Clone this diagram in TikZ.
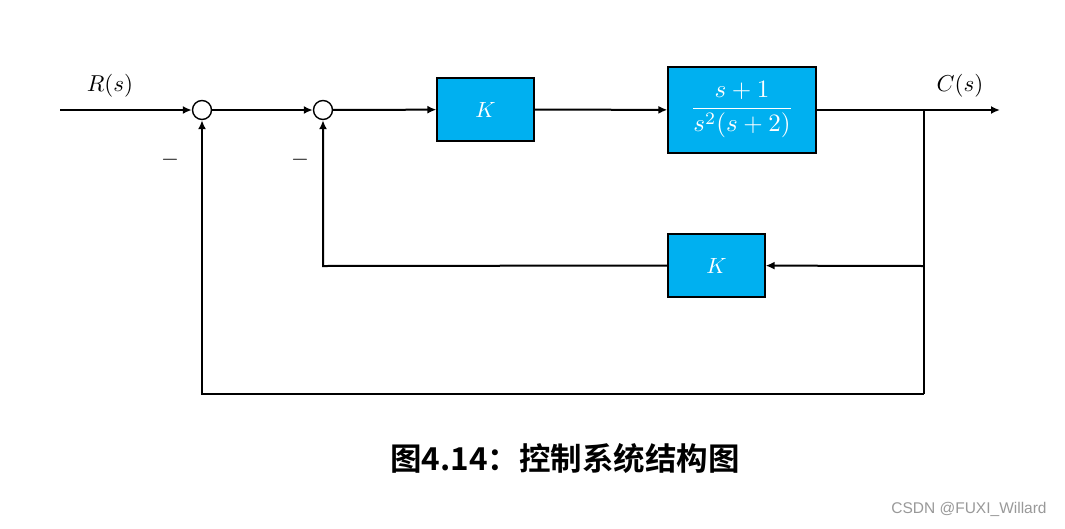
\documentclass[tikz,border=0pt]{standalone}
\usepackage{fontspec}
\newfontfamily\cjk{Noto Sans CJK SC}[BoldFont={Noto Sans CJK SC Bold}]
\newfontfamily\wmfont{Liberation Sans}
\usetikzlibrary{arrows.meta}
\definecolor{boxblue}{HTML}{00B0F0}
\newcommand{\bigtxt}[1]{\scalebox{2.2}{#1}}
\tikzset{
  blk/.style={draw=black, line width=1.2pt, fill=boxblue, text=white, inner sep=0pt},
  sumpt/.style={circle, draw=black, line width=1.4pt, minimum size=19pt, inner sep=0pt, fill=white},
  sig/.style={line width=2pt, -{Latex[length=9pt,width=8pt]}},
  wire/.style={line width=2pt},
  lbl/.style={scale=2.3}
}
\begin{document}
\begin{tikzpicture}[x=1pt,y=-1pt]
\useasboundingbox (0,0) rectangle (1065,528);
\fill[white] (0,0) rectangle (1065,528);
\node[sumpt] (s1) at (202,110) {};
\node[sumpt] (s2) at (323,110) {};
\node[blk, minimum width=97pt, minimum height=63pt] (k1) at (485.5,109.5) {\bigtxt{$K$}};
\node[blk, minimum width=148pt, minimum height=86pt] (g) at (742,110) {\scalebox{2.5}{$\displaystyle\frac{s+1}{s^2(s+2)}$}};
\node[blk, minimum width=97pt, minimum height=63pt] (k2) at (716.5,265.5) {\bigtxt{$K$}};
\coordinate (in) at (60,110);
\coordinate (out) at (1000,110);
\coordinate (br) at (924,110);
\coordinate (br2) at (924,266);
\coordinate (bot) at (924,394);
\coordinate (botl) at (202,394);
\coordinate (fbl) at (323,266);
\draw[sig] (in) -- (s1);
\draw[sig] (s1) -- (s2);
\draw[sig] (s2) -- (k1);
\draw[sig] (k1) -- (g);
\draw[sig] (g) -- (out);
\draw[wire] (br) -- (bot);
\draw[sig] (br2) -- (k2);
\draw[sig] (k2.west) -- (fbl) -- (s2);
\draw[sig] (bot) -- (botl) -- (s1);
\node[lbl] (r) at (110,86) {$R(s)$};
\node[lbl] (c) at (960,86) {$C(s)$};
\node[lbl] (m1) at (170,160) {$-$};
\node[lbl] (m2) at (300,160) {$-$};
\node[font=\cjk\bfseries\fontsize{31.5}{34}\selectfont] (cap) at (565,458) {图4.14：控制系统结构图};
\node[font=\wmfont\fontsize{15.5}{17}\selectfont, text=black!40] (wm) at (969,509) {CSDN @FUXI\_Willard};
\end{tikzpicture}
\end{document}
